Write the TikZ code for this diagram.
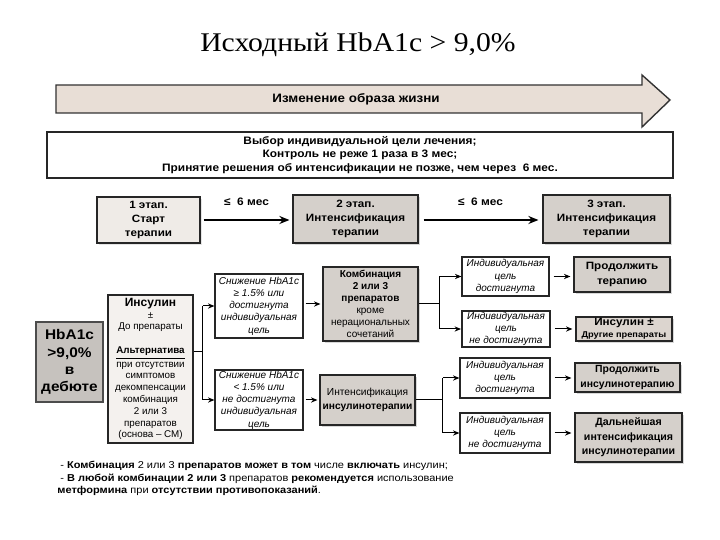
\documentclass[tikz,border=0pt]{standalone}
\usepackage{fontspec}
\setmainfont{Liberation Serif}[FakeStretch=1.1]
\newfontfamily\arw{Liberation Sans}[FakeStretch=1.1]
\newfontfamily\arn{Liberation Sans}
\usetikzlibrary{arrows.meta,shadows}
\definecolor{arrowfill}{HTML}{E8DED6}
\definecolor{lightbox}{HTML}{EFEBE7}
\definecolor{gbox}{HTML}{D5D0CB}
\definecolor{hbox}{HTML}{C6C2BE}
\definecolor{insbox}{HTML}{F4F1EE}
\definecolor{r2fill}{HTML}{DCD5CF}
\newcommand{\fs}[2]{\fontsize{#1}{#2}\selectfont}
\begin{document}
\begin{tikzpicture}[x=0.5pt,y=-0.5pt,
  bx/.style={draw=black!85, line width=0.6pt, align=center, inner sep=0pt,
     font=\arw\bfseries\fs{5.3}{7.2}},
  gbx/.style={bx, fill=gbox, drop shadow={shadow xshift=1pt,shadow yshift=-1pt,fill=black!30}},
  ibx/.style={bx, fill=white, font=\arn\itshape\fs{5}{6.1}},
  con/.style={line width=0.5pt, -{Stealth[length=3.2pt,width=2.6pt]}},
  ln/.style={line width=0.5pt},
  big/.style={line width=1.3pt, -{Stealth[length=5pt,width=4pt]}}]
\useasboundingbox (0,0) rectangle (720,540);
\fill[white] (0,0) rectangle (720,540);

\node (title) at (358,45) {\fs{13.5}{15}Исходный HbA1c > 9,0\%};

% lifestyle arrow
\draw[fill=arrowfill, draw=black!80, line width=0.7pt]
  (56,85) -- (642,85) -- (642,75) -- (670,100) -- (642,127) -- (642,113) -- (56,113) -- cycle;
\node[font=\arw\bfseries\fs{6.1}{8}] (life) at (356,99) {Изменение образа жизни};

% goal box
\node[bx, minimum width=313pt, minimum height=23pt, font=\arw\bfseries\fs{5.4}{6.7}] (goal) at (360,155)
  {Выбор индивидуальной цели лечения;\\Контроль не реже 1 раза в 3 мес;\\Принятие решения об интенсификации не позже, чем через~~6 мес.};

% stages
\node[bx, fill=lightbox, minimum width=51.5pt, minimum height=23pt, drop shadow={shadow xshift=1pt,shadow yshift=-1pt,fill=black!20}] (s1) at (148.5,220) {1 этап.\\Старт\\терапии};
\node[gbx, minimum width=62.5pt, minimum height=24pt] (s2) at (355.5,219) {2 этап.\\Интенсификация\\терапии};
\node[gbx, minimum width=63.5pt, minimum height=24pt] (s3) at (606.5,219) {3 этап.\\Интенсификация\\терапии};
\draw[big, shorten <=1.5pt, shorten >=1.5pt] (s1.east |- 0,220) -- node[above=3pt, font=\arw\bfseries\fs{5.4}{7}] {≤~~6 мес} (s2.west |- 0,220);
\draw[big, shorten <=2.5pt, shorten >=2pt] (s2.east |- 0,220) -- node[above=3pt, font=\arw\bfseries\fs{5.4}{7}] {≤~~6 мес} (s3.west |- 0,220);

% left
\node[bx, fill=hbox, draw=black!70, line width=0.8pt, minimum width=33.5pt, minimum height=40pt, font=\arw\bfseries\fs{7}{8.6}] (hba) at (69.5,362) {HbA1c\\>9,0\%\\в\\дебюте};
\node[bx, fill=insbox, minimum width=42.5pt, minimum height=74pt, font=\arn\fs{4.9}{5.9}] (ins) at (150.5,369)
  {{\bfseries\fs{6}{7}Инсулин}\\±\\До препараты\\[6pt]\textbf{\underline{Альтернатива}}\\[0.8pt]при отсутствии\\симптомов\\декомпенсации\\комбинация\\2 или 3\\препаратов\\(основа – СМ)};

% second column
\node[ibx, minimum width=44pt, minimum height=32pt] (a) at (259,306) {Снижение HbA1c\\≥ 1.5\% или\\достигнута\\индивидуальная\\цель};
\node[ibx, minimum width=44pt, minimum height=30pt] (b) at (259,400) {Снижение HbA1c\\< 1.5\% или\\не достигнута\\индивидуальная\\цель};
\coordinate (j1) at (203,352);
\draw[ln] (ins.east |- j1) -- (j1);
\draw[ln] (j1 |- a) -- (j1 |- b);
\draw[con] (j1 |- a) -- (a.west);
\draw[con] (j1 |- b) -- (b.west);

% third column
\node[gbx, minimum width=47.5pt, minimum height=37pt, font=\arn\fs{5}{6}] (komb) at (370.5,304)
  {\textbf{Комбинация}\\\textbf{2 или 3}\\\textbf{препаратов}\\кроме\\нерациональных\\сочетаний};
\node[gbx, minimum width=47.5pt, minimum height=25pt, font=\arn\fs{5.1}{7}] (int) at (367.5,400)
  {Интенсификация\\\textbf{инсулинотерапии}};
\draw[con, shorten <=1pt, shorten >=1pt] (a.east |- komb) -- (komb.west);
\draw[con, shorten <=1pt, shorten >=1pt] (b.east) -- (int.west);

% fourth column
\node[ibx, minimum width=43.5pt, minimum height=19.5pt] (m1) at (505.5,276.5) {Индивидуальная\\цель\\достигнута};
\node[ibx, line width=1pt, minimum width=44pt, minimum height=18pt] (m2) at (506,329) {Индивидуальная\\цель\\не достигнута};
\node[ibx, minimum width=45pt, minimum height=20pt] (m3) at (505,378) {Индивидуальная\\цель\\достигнута};
\node[ibx, minimum width=45pt, minimum height=20pt] (m4) at (505,433) {Индивидуальная\\цель\\не достигнута};
\coordinate (j2) at (440,304);
\draw[ln] (komb.east) -- (j2);
\draw[ln] (j2 |- m1) -- (j2 |- m2);
\draw[con] (j2 |- m1) -- (m1.west);
\draw[con] (j2 |- m2) -- (m2.west);
\coordinate (j3) at (443,400);
\draw[ln] (int.east) -- (j3);
\draw[ln] (j3 |- m3) -- (j3 |- m4);
\draw[con] (j3 |- m3) -- (m3.west);
\draw[con] (j3 |- m4) -- (m4.west);

% fifth column
\node[gbx, minimum width=48pt, minimum height=17.5pt] (r1) at (622,274.5) {Продолжить\\терапию};
\node[gbx, fill=r2fill, minimum width=48pt, minimum height=12pt, font=\arw\bfseries\fs{5.3}{6}] (r2) at (624,329) {Инсулин ±\\{\fs{4.2}{5}Другие препараты}};
\node[gbx, minimum width=52.5pt, minimum height=14.5pt, font=\arn\bfseries\fs{5.2}{7.2}] (r3) at (627.5,377.5) {Продолжить\\инсулинотерапию};
\node[gbx, minimum width=53.5pt, minimum height=24.5pt, font=\arn\bfseries\fs{5.3}{7.2}] (r4) at (628.5,437.5) {Дальнейшая\\интенсификация\\инсулинотерапии};
\draw[con, shorten <=2pt, shorten >=1.5pt] (m1.east) -- (r1.west |- m1);
\draw[con, shorten <=2pt, shorten >=1.5pt] (m2.east) -- (r2.west |- m2);
\draw[con, shorten <=2pt, shorten >=1.5pt] (m3.east) -- (r3.west |- m3);
\draw[con, shorten <=2pt, shorten >=1.5pt] (m4.east) -- (r4.west |- m4);

% notes
\node[anchor=north west, align=left, inner sep=0pt, font=\arw\fs{5}{6.3}] (notes) at (57,461)
  {~- \textbf{Комбинация} 2 или 3 \textbf{препаратов может в том} числе \textbf{включать} инсулин;\\
   ~- \textbf{В любой комбинации 2 или 3} препаратов \textbf{рекомендуется} использование\\
   \textbf{метформина} при \textbf{отсутствии противопоказаний}.};
\end{tikzpicture}
\end{document}
